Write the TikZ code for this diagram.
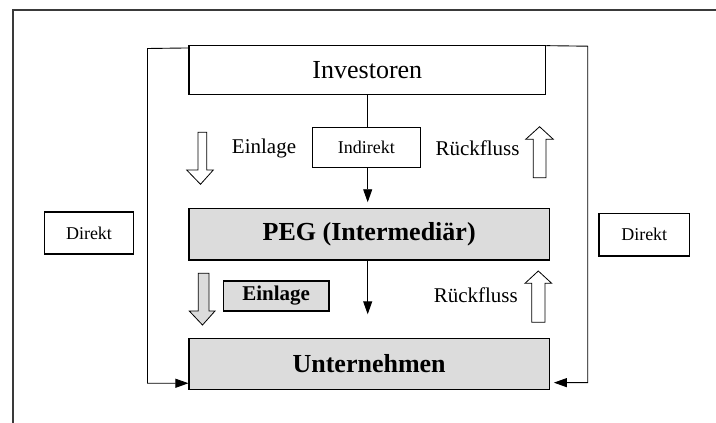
\documentclass[tikz,border=0pt]{standalone}
\usepackage{fontspec}
\setmainfont{Liberation Serif}
\usetikzlibrary{arrows.meta,calc}
\definecolor{boxgray}{HTML}{DCDCDC}
\definecolor{framegray}{HTML}{3A3A3A}
\begin{document}
\begin{tikzpicture}[x=1pt,y=-1pt,
  box/.style={draw=black,line width=1.1pt,inner sep=0pt,anchor=center},
  bigtext/.style={font=\fontsize{26}{28}\selectfont},
  midtext/.style={font=\fontsize{21}{24}\selectfont},
  smalltext/.style={font=\fontsize{18}{20}\selectfont},
  conn/.style={draw=black,line width=0.9pt},
  tip/.style={-{Triangle[length=13pt,width=9pt]}},
  blockarrow/.style={draw=black,line width=0.8pt,line join=miter}]
\useasboundingbox (0,0) rectangle (716,423);
% page frame
\draw[framegray,line width=1.6pt] (716,10) -- (13,10) -- (13,423);

% main boxes
\node[box,bigtext,fill=white,minimum width=356.7pt,minimum height=48.6pt] (inv) at (367.35,70) {Investoren};
\node[box,smalltext,fill=white,minimum width=108pt,minimum height=40.4pt] (ind) at (366.3,147.5) {Indirekt};
\node[box,bigtext,font=\fontsize{26}{28}\selectfont\bfseries,fill=boxgray,minimum width=360.3pt,minimum height=51.7pt] (peg) at (369.15,234.15) {PEG (Intermediär)};
\node[box,bigtext,font=\fontsize{26}{28}\selectfont\bfseries,fill=boxgray,minimum width=360.3pt,minimum height=51pt] (unt) at (369.15,363.8) {Unternehmen};
\node[box,midtext,font=\fontsize{21}{24}\selectfont\bfseries,fill=boxgray,minimum width=105.7pt,minimum height=30pt] (einb) at (276.15,296) {Einlage};
\node[box,smalltext,fill=white,minimum width=89.5pt,minimum height=42pt] (dirl) at (89,233) {Direkt};
\node[box,smalltext,fill=white,minimum width=90.5pt,minimum height=42.4pt] (dirr) at (644.25,234.8) {Direkt};

% free labels
\node[midtext,inner sep=0pt] (einl) at (264,148) {Einlage};
\node[midtext,inner sep=0pt] (rueck1) at (477.5,148) {Rückfluss};
\node[midtext,inner sep=0pt] (rueck2) at (475.8,295) {Rückfluss};

% indirect path through the intermediary
\draw[conn] (inv.south -| 367.7,0) -- (ind.north -| 367.7,0);
\draw[conn,tip] (ind.south -| 367.7,0) -- ($(peg.north -| 367.7,0)+(0,-5.5)$);
\coordinate (pegout) at (367.7,314.3);
\draw[conn,tip] (peg.south -| 367.7,0) -- (pegout);

% direct paths around the intermediary
\coordinate (lcorner) at (147.5,48.5);
\coordinate (rcorner) at (587.7,46.2);
\draw[conn,tip] ($(inv.north west)+(0,2.8)$) -- (lcorner) |- ($(unt.south west)+(0,-6.6)$);
\draw[conn,tip] ($(inv.north east)+(0,0.5)$) -- (rcorner) |- ($(unt.south east)+(4,-7.2)$);

% hollow block arrows: contribution (down) and return (up)
\draw[blockarrow,fill=white] (198,132.3) -- (206.7,132.3) -- (206.7,170) -- (213.3,170)
  -- (200.5,184.3) -- (186.7,170) -- (198,170) -- cycle;
\draw[blockarrow,fill=white] (533.3,177.7) -- (546,177.7) -- (546,139.3) -- (553.3,139.3)
  -- (539.6,126.7) -- (525.7,139.3) -- (533.3,139.3) -- cycle;
\draw[blockarrow,fill=boxgray] (198.3,273.3) -- (209,273.3) -- (209,311) -- (215,311)
  -- (202.5,325) -- (189.3,311) -- (198.3,311) -- cycle;
\draw[blockarrow,fill=white] (531.7,322.3) -- (545,322.3) -- (545,283.3) -- (551.7,283.3)
  -- (538.3,271) -- (525,283.3) -- (531.7,283.3) -- cycle;
\end{tikzpicture}
\end{document}
